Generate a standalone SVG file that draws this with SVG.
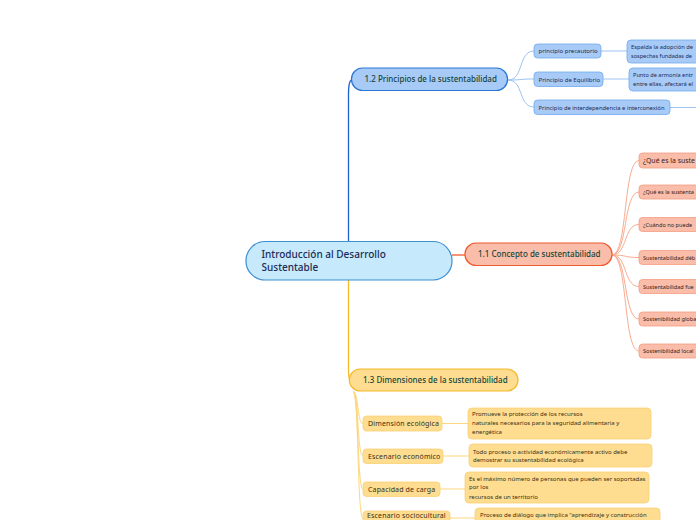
<svg xmlns="http://www.w3.org/2000/svg" width="696" height="520" viewBox="0 0 696 520">
<style>
text{font-family:"Noto Sans","Open Sans",sans-serif;}
.root{fill:#c6eafb;stroke:#3f8fd3;stroke-width:1.2}
.rootT{font-size:10px;fill:#1c2b57;font-weight:500}
.b12{fill:#a7cbf6;stroke:#2a77d6;stroke-width:1.2}
.b11{fill:#f9bda9;stroke:#ef5a2f;stroke-width:1.2}
.b13{fill:#fedd91;stroke:#f7b82a;stroke-width:1.2}
.bT{font-size:8px;fill:#16463a;font-weight:500}
.c12{fill:#a7cbf6;stroke:#6ea9ee;stroke-width:0.8}
.c11{fill:#f9bda9;stroke:#f49d80;stroke-width:0.8}
.c13{fill:#fedd91;stroke:#f9d173;stroke-width:0.8}
.t12{font-size:6px;fill:#1b2a55}
.t11{font-size:5.6px;fill:#3b2016}
.t13{font-size:6px;fill:#3a2f12}
.d13{font-size:7px;fill:#3a2f12;letter-spacing:0.15px}
.lb{fill:none;stroke:#9cc3f2;stroke-width:1}
.lo{fill:none;stroke:#f9ab8f;stroke-width:1}
.ly{fill:none;stroke:#fbd77e;stroke-width:1}
</style>
<rect width="696" height="520" fill="#ffffff"/>
<g id="connectors">
<path d="M348.5,241 V94 C348.5,84 349.5,80 352,80" fill="none" stroke="#1b62cf" stroke-width="1.3"/>
<path d="M452,255 H465" fill="none" stroke="#ef5a2f" stroke-width="1.3"/>
<path d="M348.5,280 V368 C348.5,376 349,380 350,380" fill="none" stroke="#f7b82a" stroke-width="1.3"/>
<path class="lb" d="M508,80 C524,80 518,51 534,51"/>
<path class="lb" d="M508,80 C524,80 518,79 534,79"/>
<path class="lb" d="M508,80 C524,80 518,107 534,107"/>
<path class="lb" d="M601,51 H627"/>
<path class="lb" d="M603,79 H629"/>
<path class="lb" d="M670,107.5 H696"/>
<path class="lo" d="M612,255 C628,255 623,160.5 639,160.5"/>
<path class="lo" d="M612,255 C628,255 623,192 639,192"/>
<path class="lo" d="M612,255 C628,255 623,224.5 639,224.5"/>
<path class="lo" d="M612,255 C628,255 623,257.5 639,257.5"/>
<path class="lo" d="M612,255 C628,255 623,286.5 639,286.5"/>
<path class="lo" d="M612,255 C628,255 623,319 639,319"/>
<path class="lo" d="M612,255 C628,255 623,351 639,351"/>
<path class="ly" d="M353,391 C359,393 357,423.5 363,423.5"/>
<path class="ly" d="M353,391 C359,393 357,456 363,456"/>
<path class="ly" d="M353,391 C359,393 357,489 363,489"/>
<path class="ly" d="M353,391 C359,393 357,518 363,518"/>
<path class="ly" d="M442,423.5 H468"/>
<path class="ly" d="M443,456 H469"/>
<path class="ly" d="M440,489 H465"/>
<path class="ly" d="M450,518 H475"/>
</g>
<g id="root">
<rect class="root" x="246" y="241.5" width="206" height="38.5" rx="19"/>
<text class="rootT" x="261.5" y="257.5">Introducción al Desarrollo</text>
<text class="rootT" x="261.5" y="271">Sustentable</text>
</g>
<g id="b12">
<rect class="b12" x="351.5" y="68" width="156" height="22.5" rx="11"/>
<text class="bT" x="364.5" y="82.3">1.2 Principios de la sustentabilidad</text>
</g>
<g id="b11">
<rect class="b11" x="465" y="243" width="147" height="22.5" rx="11"/>
<text class="bT" x="478" y="257.3">1.1 Concepto de sustentabilidad</text>
</g>
<g id="b13">
<rect class="b13" x="349.3" y="369" width="168.7" height="22" rx="11"/>
<text class="bT" x="363" y="383">1.3 Dimensiones de la sustentabilidad</text>
</g>
<g id="p1">
<rect class="c12" x="534" y="44" width="67" height="14" rx="3.5"/>
<text class="t12" x="538.5" y="53.3">principio precautorio</text>
</g>
<g id="p1d">
<rect class="c12" x="627" y="40" width="80" height="23" rx="4"/>
<text class="t12" x="631" y="49" textLength="62" lengthAdjust="spacingAndGlyphs">Espalda la adopción de</text>
<text class="t12" x="631" y="57.5" textLength="61" lengthAdjust="spacingAndGlyphs">sospechas fundadas de</text>
</g>
<g id="p2">
<rect class="c12" x="534" y="72" width="69" height="14.5" rx="3.5"/>
<text class="t12" x="538.5" y="81.5">Principio de Equilibrio</text>
</g>
<g id="p2d">
<rect class="c12" x="629" y="68" width="80" height="23" rx="4"/>
<text class="t12" x="633" y="77" textLength="60" lengthAdjust="spacingAndGlyphs">Punto de armonía entr</text>
<text class="t12" x="633" y="85.5" textLength="60" lengthAdjust="spacingAndGlyphs">entre ellas, afectará el</text>
</g>
<g id="p3">
<rect class="c12" x="534" y="100" width="136" height="14.5" rx="3.5"/>
<text class="t12" x="538.5" y="109.5" textLength="126" lengthAdjust="spacingAndGlyphs">Principio de interdependencia e interconexión</text>
</g>
<g id="k1">
<rect class="c11" x="639" y="153" width="70" height="15" rx="3.5"/>
<text x="643" y="163.3" style="font-size:6.9px;fill:#3b2016">¿Qué es la suste</text>
</g>
<g id="k2">
<rect class="c11" x="639" y="185" width="70" height="14" rx="3.5"/>
<text class="t11" x="643" y="194.3">¿Qué es la sustenta</text>
</g>
<g id="k3">
<rect class="c11" x="639" y="217.5" width="70" height="14" rx="3.5"/>
<text class="t11" x="643" y="226.8">¿Cuándo no puede</text>
</g>
<g id="k4">
<rect class="c11" x="639" y="250.5" width="70" height="14" rx="3.5"/>
<text class="t11" x="643" y="259.8">Sustentabilidad déb</text>
</g>
<g id="k5">
<rect class="c11" x="639" y="279.5" width="70" height="14" rx="3.5"/>
<text class="t11" x="643" y="288.8">Sustentabilidad fue</text>
</g>
<g id="k6">
<rect class="c11" x="639" y="312" width="70" height="14" rx="3.5"/>
<text class="t11" x="643" y="321.3">Sostenibilidad globa</text>
</g>
<g id="k7">
<rect class="c11" x="639" y="344" width="70" height="14" rx="3.5"/>
<text class="t11" x="643" y="353.3">Sostenibilidad local</text>
</g>
<g id="d1">
<rect class="c13" x="363" y="416" width="79" height="15" rx="3.5"/>
<text class="d13" x="368" y="426">Dimensión ecológica</text>
</g>
<g id="d1d">
<rect class="c13" x="468" y="408" width="183" height="31" rx="4"/>
<text class="t13" x="472" y="416">Promueve la protección de los recursos</text>
<text class="t13" x="472" y="425">naturales necesarios para la seguridad alimentaria y</text>
<text class="t13" x="472" y="434">energética</text>
</g>
<g id="d2">
<rect class="c13" x="363" y="449" width="80" height="14.5" rx="3.5"/>
<text class="d13" x="368" y="458.8">Escenario económico</text>
</g>
<g id="d2d">
<rect class="c13" x="469" y="444" width="183" height="23" rx="4"/>
<text class="t13" x="473" y="453.5">Todo proceso o actividad económicamente activo debe</text>
<text class="t13" x="473" y="462">demostrar su sustentabilidad ecológica</text>
</g>
<g id="d3">
<rect class="c13" x="363" y="482" width="77" height="14.5" rx="3.5"/>
<text class="d13" x="368" y="491.8">Capacidad de carga</text>
</g>
<g id="d3d">
<rect class="c13" x="465" y="472" width="184" height="31" rx="4"/>
<text class="t13" x="469" y="480.5">Es el máximo número de personas que pueden ser soportadas</text>
<text class="t13" x="469" y="489">por los</text>
<text class="t13" x="469" y="499"> recursos de un territorio</text>
</g>
<g id="d4">
<rect class="c13" x="363" y="511" width="87" height="15" rx="3.5"/>
<text class="d13" x="367" y="518">Escenario sociocultural</text>
</g>
<g id="d4d">
<rect class="c13" x="475" y="508" width="185" height="23" rx="4"/>
<text class="t13" x="480" y="516.5">Proceso de diálogo que implica "aprendizaje y construcción</text>
</g>
</svg>
